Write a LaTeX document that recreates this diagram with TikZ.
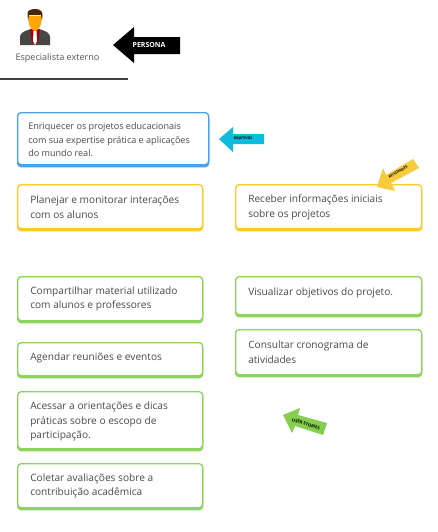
\documentclass[tikz,border=0pt]{standalone}
\usepackage{fontspec}
\setmainfont{Open Sans}
\usetikzlibrary{calc}
\definecolor{bluec}{HTML}{4AA3E8}
\definecolor{yellowc}{HTML}{FFC928}
\definecolor{greenc}{HTML}{8FD45A}
\definecolor{txtc}{HTML}{4A4A4A}
\definecolor{cyanc}{HTML}{0DBBDD}
\definecolor{arrowy}{HTML}{F9CB3C}
\definecolor{arrowg}{HTML}{86CF4E}
\newcommand{\pxfont}[2]{\fontsize{#1}{#2}\selectfont}
\tikzset{
  x=0.75pt,y=-0.75pt,
  cardbox/.style n args={3}{draw=#1,line width=1pt,fill=white,rounded corners=2.6pt,anchor=north west,
    minimum width=#2*0.75pt,minimum height=#3*0.75pt,inner sep=0pt,
    preaction={draw=#1,fill=#1,line width=1pt,rounded corners=2.6pt,transform canvas={yshift=-1.5pt}}},
  cardtext/.style={anchor=west,align=left,inner sep=0pt,text=txtc},
  bigtxt/.style={cardtext,font=\pxfont{7.6}{11}},
  smalltxt/.style={cardtext,font=\pxfont{7.6}{11}},
  bluetxt/.style={cardtext,font=\pxfont{6.8}{9.9}},
}
\begin{document}
\begin{tikzpicture}
\useasboundingbox (0,0) rectangle (437,532);
\fill[white] (0,0) rectangle (437,532);
% person icon
\fill[black!72] (20,45) -- (20,37) .. controls (20,33) and (24,31) .. (31,29) -- (39,29) .. controls (46,31) and (50,33) .. (50,37) -- (50,45) -- cycle;
\fill[red!65!black] (30,29) -- (40,29) -- (38,42) -- (35,45) -- (32,42) -- cycle;
\fill[white] (33.5,31) -- (36.5,31) -- (37,41) -- (35,45) -- (33,41) -- cycle;
\fill[orange!70!yellow] (28,16) -- (42,16) -- (41,24) .. controls (40,28) and (37,31) .. (35,31) .. controls (33,31) and (30,28) .. (29,24) -- cycle;
\fill[black!70!orange] (28,21) -- (27.5,13) .. controls (28,8) and (42,7) .. (42.5,14) -- (42,21) -- (41,15) -- (29,15) -- cycle;
\node[anchor=center,inner sep=0pt,text=black!65,font=\pxfont{6.8}{9}] (persona) at (57.5,58.5) {Especialista externo};
\coordinate (ruleA) at (0,79);
\coordinate (ruleB) at (127.5,79);
\draw[line width=1.8pt,color=black!75] (ruleA) -- (ruleB);
% persona arrow
\fill[black] (113,45) -- (134,27) -- (134,37) -- (180,37) -- (180,54) -- (134,54) -- (134,63) -- cycle;
\node[text=white,inner sep=0pt,font=\bfseries\pxfont{5.2}{6}] (lbPersona) at (149,45) {PERSONA};
% boxes
\node[cardbox={bluec}{191}{52}] (obj) at (17,112) {};
\node[bluetxt] at (28,139.8) {Enriquecer os projetos educacionais\\com sua expertise prática e aplicações\\do mundo real.};
\node[cardbox={yellowc}{185}{44}] (y1) at (17,184) {};
\node[bigtxt] at (30,207) {Planejar e monitorar interações\\com os alunos};
\node[cardbox={yellowc}{186}{44}] (y2) at (235,184) {};
\node[bigtxt] at (248,207.5) {Receber informações iniciais\\sobre os projetos};
\node[cardbox={greenc}{185}{44}] (g1) at (17,276) {};
\node[smalltxt] at (30,299) {Compartilhar material utilizado\\com alunos e professores};
\node[cardbox={greenc}{185}{33}] (g2) at (17,342) {};
\node[smalltxt] at (30,358) {Agendar reuniões e eventos};
\node[cardbox={greenc}{185}{57}] (g3) at (17,391) {};
\node[smalltxt] at (30,421.5) {Acessar a orientações e dicas\\práticas sobre o escopo de\\participação.};
\node[cardbox={greenc}{185}{44}] (g4) at (17,463) {};
\node[smalltxt] at (30,486) {Coletar avaliações sobre a\\contribuição acadêmica};
\node[cardbox={greenc}{186}{38}] (g5) at (235,276) {};
\node[smalltxt] at (248,292.5) {Visualizar objetivos do projeto.};
\node[cardbox={greenc}{186}{45}] (g6) at (235,329) {};
\node[smalltxt] at (248,352) {Consultar cronograma de\\atividades};
% cyan arrow
\fill[cyanc] (219,139) -- (233,127) -- (233,134) -- (264,134) -- (264,144) -- (233,144) -- (233,152) -- cycle;
\node[text=black,inner sep=0pt,font=\bfseries\pxfont{2.7}{3}] (lbObj) at (243,139) {OBJETIVOS};
% yellow arrow
\fill[arrowy] (377,187) -- (383,168) -- (386,175) -- (413,159) -- (419,168) -- (391,183) -- (395,191) -- cycle;
\node[text=black,inner sep=0pt,rotate=30,font=\bfseries\pxfont{2.8}{3}] (lbAtv) at (398,172) {ATIVIDADES};
% green arrow
\fill[arrowg] (283,415) -- (300,408) -- (298,415) -- (327,423) -- (323,435) -- (295,426) -- (292,433) -- cycle;
\node[text=black,inner sep=0pt,rotate=-17,font=\bfseries\pxfont{3.2}{4}] (lbUs) at (306,424) {USER STORIES};
\end{tikzpicture}
\end{document}
